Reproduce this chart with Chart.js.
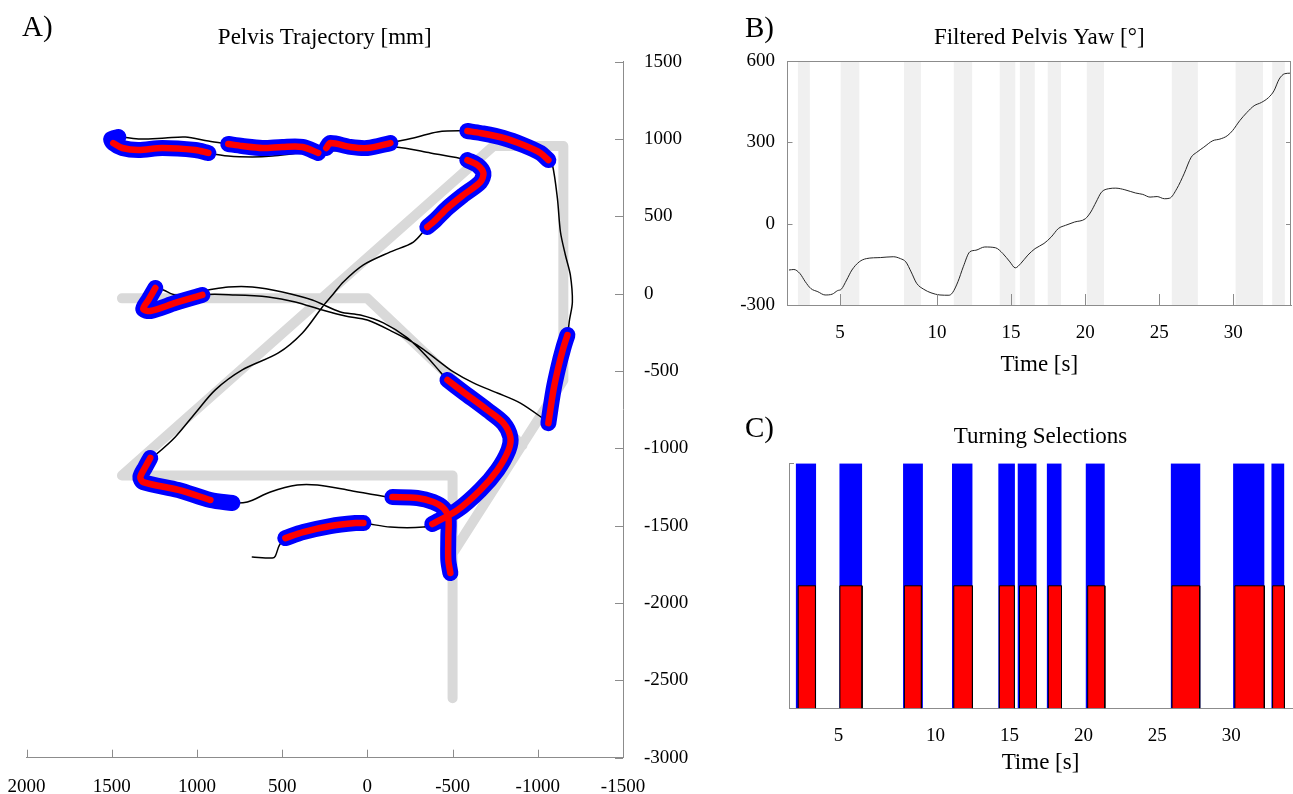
<!DOCTYPE html>
<html lang="en">
<head>
<meta charset="utf-8">
<title>Pelvis trajectory and turning selections</title>
<script src="https://cdn.jsdelivr.net/npm/chart.js@4.4.1/dist/chart.umd.min.js"></script>
<style>
    html, body { margin: 0; padding: 0; background: #fff; }
    .figure { position: relative; width: 1293px; height: 794px; overflow: hidden;
              font-family: 'Liberation Serif', 'Times New Roman', serif; color: #000; }
    .figure canvas { position: absolute; }
    .panel-tag { position: absolute; font-size: 29px; line-height: 29px; }
</style>
</head>
<body>
<div class="figure">
    <canvas id="trajectoryChart" width="700" height="794" style="left: 0; top: 0;"></canvas>
    <canvas id="yawChart" width="593" height="395" style="left: 700px; top: 0;"></canvas>
    <canvas id="selectionChart" width="593" height="399" style="left: 700px; top: 395px;"></canvas>
    <div class="panel-tag" style="left: 22px; top: 12px;">A)</div>
    <div class="panel-tag" style="left: 745px; top: 13px;">B)</div>
    <div class="panel-tag" style="left: 745px; top: 413px;">C)</div>
</div>

<script>
// Panel A: pelvis trajectory in mm, points in walking order
const trajX = [675, 558, 540, 516, 481, 376, 217, 70, 23, -135,
    -329, -381, -528, -663, -763, -828, -839, -798, -704, -563,
    -470, -428, -340, -235, -94, 41, 158, 323, 499, 675,
    816, 933, 1039, 1127, 1197, 1244, 1285, 1315, 1274, 1127,
    968, 775, 581, 423, 264, 129, 0, -153, -293, -411,
    -505, -622, -763, -898, -1027, -1062, -1092, -1121, -1150, -1174,
    -1186, -1203, -1191, -1162, -1133, -1115, -1086, -1062, -1015, -916,
    -798, -663, -587, -411, -293, -164, -135, 0, 100, 217,
    241, 288, 381, 499, 616, 734, 816, 933, 1068, 1186,
    1332, 1461, 1502, 1491, 1438, 1344, 1203, 1009, 933, 816,
    675, 558, 393, 217, 41, -164, -370, -587, -646, -681,
    -663, -563, -470, -399, -352, -270, -135, 23, 141, 200,
    264, 381, 522, 734, 892, 1009, 1127, 1244, 1274, 1303,
    1332, 1315, 1109, 921, 792, 704, 569, 411, 293, 117,
    -117, -147, -293, -387, -446, -475, -475, -475, -487];
const trajY = [-1703, -1709, -1696, -1625, -1580, -1541, -1502, -1483, -1483, -1509,
    -1509, -1489, -1399, -1269, -1140, -1011, -927, -836, -752, -636,
    -558, -506, -396, -286, -189, -138, -118, -41, 11, 43,
    43, 24, 5, -8, 24, 37, -41, -99, -112, -60,
    -8, -8, -21, -53, -105, -144, -170, -248, -332, -429,
    -506, -577, -642, -707, -804, -837, -623, -474, -351, -267,
    -170, -53, 121, 250, 399, 618, 832, 864, 910, 961,
    1007, 1039, 1052, 1046, 1013, 981, 974, 942, 949, 974,
    942, 910, 949, 949, 942, 955, 968, 987, 1013, 1007,
    1000, 1013, 1000, 974, 942, 929, 942, 929, 910, 890,
    884, 890, 910, 923, 936, 949, 910, 864, 832, 780,
    722, 638, 554, 476, 431, 334, 270, 186, 76, -2,
    -86, -254, -383, -493, -622, -771, -926, -1043, -1062, -1121,
    -1185, -1218, -1269, -1334, -1353, -1347, -1282, -1237, -1237, -1269,
    -1315, -1315, -1321, -1347, -1386, -1444, -1573, -1722, -1806];

// index ranges of the trajectory flagged as turns (blue halo, red core)
const turnOuter = [[4, 8], [11, 20], [35, 40], [55, 59], [67, 72], [76, 80],
    [81, 86], [91, 98], [107, 114], [128, 134], [141, 148]];
const turnInner = [[4, 8], [11, 20], [35, 40], [55, 59], [67, 72], [76, 80],
    [81, 86], [93, 98], [107, 114], [128, 133], [141, 148]];

// planned walking course (null breaks the line)
const courseX = [-500, -500, 1440, -740, -1150, -1150, -500, null, 1440, 0, -910];
const courseY = [-2615, -1175, -1175, 955, 955, -560, -1680, null, -30, -30, -980];

const trajXTicks = [2000, 1500, 1000, 500, 0, -500, -1000, -1500];
const trajYTicks = [1500, 1000, 500, 0, -500, -1000, -1500, -2000, -2500, -3000];

// Panel B: filtered pelvis yaw (deg) over time (s)
const yawTime = [0.0, 0.33, 0.74, 1.1, 1.47, 1.95, 2.44, 2.92, 3.28, 3.53,
    3.89, 4.25, 4.74, 5.22, 6.19, 7.04, 7.53, 7.89, 8.25, 8.62,
    9.1, 9.59, 10.19, 10.8, 11.04, 11.41, 11.77, 12.21, 12.62, 13.22,
    13.95, 14.44, 14.92, 15.28, 15.65, 16.13, 16.62, 17.22, 17.71, 18.19,
    18.68, 19.28, 20.01, 20.38, 20.74, 21.1, 21.59, 22.07, 22.68, 23.41,
    23.89, 24.38, 24.86, 25.35, 25.71, 26.19, 26.68, 27.16, 27.53, 28.01,
    28.62, 29.1, 29.59, 29.95, 30.44, 30.92, 31.41, 31.9, 32.38, 32.75,
    33.1, 33.47, 33.83];
const yawDeg = [-171, -169, -184, -214, -239, -251, -263, -260, -247, -242,
    -208, -171, -141, -129, -125, -122, -129, -141, -178, -220,
    -242, -255, -263, -264, -255, -214, -159, -104, -98, -86,
    -89, -110, -141, -163, -147, -116, -92, -73, -49, -18,
    -6, 6, 18, 43, 80, 116, 129, 131, 125, 113,
    108, 98, 100, 92, 94, 129, 184, 245, 263, 282,
    306, 312, 324, 343, 380, 410, 435, 447, 465, 490,
    533, 553, 555];
const yawTicks = [-300, 0, 300, 600];
const bandStart = [0.59, 3.49, 7.77, 11.13, 14.23, 15.59, 17.47, 20.11, 25.85, 30.16, 32.63];
const bandEnd = [1.41, 4.75, 8.91, 12.37, 15.28, 16.60, 18.37, 21.27, 27.61, 32.01, 33.49];

// Panel C: turning selections (blue full height, red half height)
const outerStart = [0.55, 3.51, 7.81, 11.12, 14.25, 15.56, 17.53, 20.16, 25.91, 30.12, 32.71];
const outerEnd = [1.93, 5.04, 9.15, 12.50, 15.37, 16.83, 18.52, 21.44, 27.90, 32.23, 33.59];
const innerStart = [0.72, 3.54, 7.90, 11.24, 14.32, 15.68, 17.63, 20.29, 25.99, 30.24, 32.79];
const innerEnd = [1.89, 5.04, 9.05, 12.50, 15.34, 16.83, 18.52, 21.45, 27.86, 32.23, 33.59];

const timeTickPos = [3.45, 10, 15, 20, 25, 30];
const timeTickLabels = ['5', '10', '15', '20', '25', '30'];

const AXIS_GRAY = '#8c8c8c';

function pointsFrom(xs, ys) {
    return xs.map((x, i) => ({ x: x, y: ys[i] }));
}

function trajectoryPieces(ranges) {
    const pts = [];
    ranges.forEach(([a, b]) => {
        for (let i = a; i <= b; i++) pts.push({ x: trajX[i], y: trajY[i] });
        pts.push({ x: null, y: null });
    });
    return pts;
}

function blocks(starts, ends, base, top) {
    const pts = [];
    starts.forEach((s, i) => {
        pts.push({ x: s, y: base }, { x: s, y: top }, { x: ends[i], y: top }, { x: ends[i], y: base });
    });
    return pts;
}

// tick marks drawn inside the plot box, like the original figure
function makeInnerTicks(marks) {
    return {
        id: 'innerTicks',
        afterDraw(chart) {
            const { ctx, chartArea: area } = chart;
            ctx.save();
            ctx.strokeStyle = AXIS_GRAY;
            ctx.lineWidth = 1;
            ctx.beginPath();
            marks.forEach(mark => {
                const scale = chart.scales[mark.scale];
                scale.ticks.forEach(tick => {
                    const p = Math.round(scale.getPixelForValue(tick.value)) + 0.5;
                    if (mark.side === 'bottom') { ctx.moveTo(p, area.bottom); ctx.lineTo(p, area.bottom - mark.length); }
                    if (mark.side === 'left') { ctx.moveTo(area.left, p); ctx.lineTo(area.left + mark.length, p); }
                    if (mark.side === 'right') { ctx.moveTo(area.right, p); ctx.lineTo(area.right - mark.length, p); }
                });
            });
            ctx.stroke();
            ctx.restore();
        }
    };
}

const topRightFrame = {
    id: 'topRightFrame',
    afterDraw(chart) {
        const { ctx, chartArea: a } = chart;
        ctx.save();
        ctx.strokeStyle = AXIS_GRAY;
        ctx.lineWidth = 1;
        ctx.beginPath();
        ctx.moveTo(a.left, Math.round(a.top) + 0.5);
        ctx.lineTo(a.right, Math.round(a.top) + 0.5);
        ctx.moveTo(Math.round(a.right) - 0.5, a.top);
        ctx.lineTo(Math.round(a.right) - 0.5, a.bottom);
        ctx.stroke();
        ctx.restore();
    }
};

// keep the plot box where the original has it: fixed axis size, no label overhang padding
function fixHeight(h) {
    return s => { s.height = h; s.paddingLeft = 0; s.paddingRight = 0; };
}

class TurningFigure {
    constructor() {
        Chart.defaults.font.family = "'Liberation Serif', 'Times New Roman', serif";
        Chart.defaults.color = '#000';

        this.buildTrajectoryChart();
        this.buildYawChart();
        this.buildSelectionChart();
    }

    baseOptions(title, pad) {
        return {
            responsive: false,
            animation: false,
            events: [],
            plugins: {
                legend: { display: false },
                tooltip: { enabled: false },
                title: {
                    display: true,
                    text: title,
                    fullSize: false,
                    font: { size: 23, weight: 'normal' },
                    padding: pad
                }
            }
        };
    }

    timeAxis(min, max, height, titlePad) {
        return {
            type: 'linear',
            min: min,
            max: max,
            grid: { display: false, drawTicks: false },
            border: { color: AXIS_GRAY },
            afterBuildTicks: s => { s.ticks = timeTickPos.map(v => ({ value: v })); },
            afterFit: fixHeight(height),
            ticks: {
                font: { size: 19 },
                padding: 16.6,
                maxRotation: 0,
                autoSkip: false,
                callback: (v, i) => timeTickLabels[i]
            },
            title: {
                display: true,
                text: 'Time [s]',
                font: { size: 23 },
                padding: { top: 0, bottom: titlePad }
            }
        };
    }

    buildTrajectoryChart() {
        const options = this.baseOptions('Pelvis Trajectory [mm]', { top: 24.2, bottom: 9.9 });
        options.layout = { padding: { left: 26.5, right: 0, top: 0, bottom: 0 } };
        options.scales = {
            x: {
                type: 'linear',
                reverse: true,
                min: -1500,
                max: 2000,
                grid: { display: false, drawTicks: false },
                border: { color: AXIS_GRAY },
                afterBuildTicks: s => { s.ticks = trajXTicks.map(v => ({ value: v })); },
                afterFit: fixHeight(36.3),
                ticks: { font: { size: 19 }, padding: 18, maxRotation: 0, autoSkip: false, callback: v => String(v) }
            },
            y: {
                type: 'linear',
                position: 'right',
                min: -3000,
                max: 1500,
                grid: { display: false, drawTicks: false },
                border: { color: AXIS_GRAY },
                afterBuildTicks: s => { s.ticks = trajYTicks.map(v => ({ value: v })); },
                afterFit: s => { s.width = 77; },
                ticks: { font: { size: 19 }, padding: 21, autoSkip: false, callback: v => String(v) }
            }
        };

        const line = { showLine: true, pointRadius: 0, borderCapStyle: 'round', borderJoinStyle: 'round' };

        new Chart(document.getElementById('trajectoryChart'), {
            type: 'scatter',
            data: {
                datasets: [
                    { ...line, data: trajectoryPieces(turnInner), borderColor: '#ff0000', borderWidth: 6.5, tension: 0.3, order: 0 },
                    { ...line, data: trajectoryPieces(turnOuter), borderColor: '#0000ff', borderWidth: 16, tension: 0.3, order: 1 },
                    { ...line, data: pointsFrom(trajX, trajY), borderColor: '#000000', borderWidth: 1.5, tension: 0.3, order: 2 },
                    { ...line, data: pointsFrom(courseX, courseY), borderColor: '#d9d9d9', borderWidth: 10, tension: 0, order: 3 }
                ]
            },
            options: options,
            plugins: [makeInnerTicks([
                { scale: 'x', side: 'bottom', length: 8 },
                { scale: 'y', side: 'right', length: 8 }
            ])]
        });
    }

    buildYawChart() {
        const options = this.baseOptions('Filtered Pelvis Yaw [°]', { top: 24.2, bottom: 9.2 });
        options.layout = { padding: { left: 0, right: 2, top: 0, bottom: 0 } };
        options.scales = {
            x: this.timeAxis(-0.1, 33.9, 90, 16.2),
            y: {
                type: 'linear',
                min: -300,
                max: 600,
                grid: { display: false, drawTicks: false },
                border: { color: AXIS_GRAY },
                afterBuildTicks: s => { s.ticks = yawTicks.map(v => ({ value: v })); },
                afterFit: s => { s.width = 87.5; },
                ticks: { font: { size: 19 }, padding: 12.5, autoSkip: false, callback: v => String(v) }
            }
        };

        new Chart(document.getElementById('yawChart'), {
            type: 'line',
            data: {
                datasets: [
                    {
                        data: pointsFrom(yawTime, yawDeg),
                        borderColor: '#262626',
                        borderWidth: 1,
                        pointRadius: 0,
                        cubicInterpolationMode: 'monotone',
                        fill: false,
                        order: 0
                    },
                    {
                        data: blocks(bandStart, bandEnd, -300, 600),
                        borderColor: 'rgba(0,0,0,0)',
                        backgroundColor: '#f0f0f0',
                        pointRadius: 0,
                        fill: 'start',
                        order: 1
                    }
                ]
            },
            options: options,
            plugins: [makeInnerTicks([
                { scale: 'x', side: 'bottom', length: 11 },
                { scale: 'y', side: 'left', length: 5 },
                { scale: 'y', side: 'right', length: 5 }
            ]), topRightFrame]
        });
    }

    buildSelectionChart() {
        const options = this.baseOptions('Turning Selections', { top: 27.9, bottom: 12.8 });
        options.layout = { padding: { left: 0, right: 1, top: 0, bottom: 0 } };
        options.scales = {
            x: this.timeAxis(0.1, 34.1, 85.7, 16.9),
            y: {
                type: 'linear',
                min: 0,
                max: 1,
                grid: { display: false, drawTicks: false },
                border: { color: AXIS_GRAY },
                afterBuildTicks: s => { s.ticks = [{ value: 0 }, { value: 1 }]; },
                afterFit: s => { s.width = 89; },
                ticks: { display: false }
            }
        };

        const redPts = blocks(innerStart, innerEnd, 0, 0.5);

        new Chart(document.getElementById('selectionChart'), {
            type: 'line',
            data: {
                datasets: [
                    {
                        data: redPts,
                        backgroundColor: '#ff0000',
                        borderColor: '#000000',
                        borderWidth: 1,
                        pointRadius: 0,
                        fill: 'origin',
                        segment: {
                            borderColor: c => (redPts[c.p0DataIndex].y === 0 && redPts[c.p1DataIndex].y === 0)
                                ? 'rgba(0,0,0,0)' : '#000000'
                        },
                        order: 0
                    },
                    {
                        data: blocks(outerStart, outerEnd, 0, 1),
                        backgroundColor: '#0000ff',
                        borderColor: 'rgba(0,0,0,0)',
                        pointRadius: 0,
                        fill: 'origin',
                        order: 1
                    }
                ]
            },
            options: options,
            plugins: [makeInnerTicks([{ scale: 'y', side: 'left', length: 5 }])]
        });
    }
}

document.addEventListener('DOMContentLoaded', () => {
    const figure = new TurningFigure();
});
</script>
</body>
</html>
